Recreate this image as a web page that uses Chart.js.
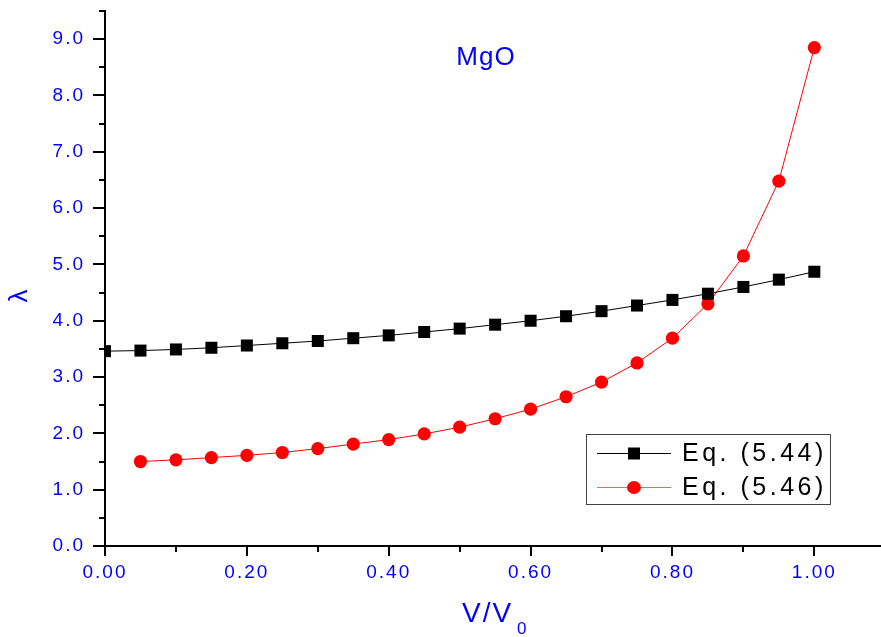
<!DOCTYPE html>
<html>
<head>
<meta charset="utf-8">
<script src="https://cdn.jsdelivr.net/npm/chart.js@4.4.0/dist/chart.umd.min.js"></script>
<style>
html, body { margin: 0; padding: 0; background: #fff; overflow: hidden; }
#wrap { width: 881px; height: 637px; position: relative; }
#canvas1 { display: block; }
</style>
</head>
<body>
<div id="wrap"><canvas id="canvas1"></canvas></div>
<script>
"use strict";

// V/V0 values for the two curves
const vRatio = [0.00, 0.05, 0.10, 0.15, 0.20, 0.25, 0.30, 0.35, 0.40, 0.45, 0.50,
                0.55, 0.60, 0.65, 0.70, 0.75, 0.80, 0.85, 0.90, 0.95, 1.00];
// lambda from Eq. (5.44)
const eq544 = [3.46, 3.47, 3.49, 3.52, 3.56, 3.60, 3.64, 3.69, 3.74, 3.80, 3.86,
               3.93, 4.00, 4.08, 4.17, 4.27, 4.37, 4.48, 4.60, 4.73, 4.87];
// lambda from Eq. (5.46), starts at 0.05
const eq546V = vRatio.slice(1);
const eq546 = [1.50, 1.53, 1.57, 1.61, 1.66, 1.73, 1.81, 1.89, 1.99, 2.11,
               2.26, 2.43, 2.65, 2.91, 3.25, 3.69, 4.30, 5.15, 6.48, 8.85];
const seriesNames = ["Eq. (5.44)", "Eq. (5.46)"];
const xTicks = [0.00, 0.20, 0.40, 0.60, 0.80, 1.00];
const yTicks = [0, 1, 2, 3, 4, 5, 6, 7, 8, 9];

const BLUE = "#0000ff";
const FONT = "'Liberation Sans', Arial, sans-serif";

// ticks, titles and boxed legend
const decor = {
    id: "decor",
    beforeDraw(chart) {
        chart.ctx.letterSpacing = "2px";
    },
    afterDraw(chart) {
        const ctx = chart.ctx;
        const xs = chart.scales.x;
        const ys = chart.scales.y;
        const a = chart.chartArea;
        ctx.save();
        ctx.letterSpacing = "0px";
        ctx.strokeStyle = "#000";
        ctx.lineWidth = 2;
        ctx.beginPath();
        //y ticks, major every 1, minor every 0.5
        for (let i = 0; i <= 19; i++) {
            let v = i * 0.5;
            let py = Math.round(ys.getPixelForValue(v));
            let len = i % 2 == 0 ? 12 : 6;
            ctx.moveTo(a.left, py);
            ctx.lineTo(a.left - len, py);
        }
        //x ticks, major every 0.2, minor every 0.1
        for (let i = 0; i <= 10; i++) {
            let px = Math.round(xs.getPixelForValue(i * 0.1));
            let len = i % 2 == 0 ? 10 : 6;
            ctx.moveTo(px, a.bottom);
            ctx.lineTo(px, a.bottom + len);
        }
        ctx.stroke();

        //titles
        ctx.fillStyle = BLUE;
        ctx.textAlign = "center";
        ctx.textBaseline = "alphabetic";
        ctx.font = "26px " + FONT;
        ctx.letterSpacing = "1px";
        ctx.fillText("MgO", 486, 65);

        ctx.font = "28px " + FONT;
        ctx.letterSpacing = "2px";
        ctx.textAlign = "left";
        ctx.fillText("V/V", 462, 622);
        ctx.font = "17px " + FONT;
        ctx.letterSpacing = "0px";
        ctx.fillText("0", 517, 634);

        ctx.save();
        ctx.translate(27, 296);
        ctx.rotate(-Math.PI / 2);
        ctx.font = "26px " + FONT;
        ctx.textAlign = "center";
        ctx.fillText("\u03bb", 0, 0);
        ctx.restore();

        //legend box
        const bx = 586, by = 434, bw = 244, bh = 70;
        ctx.fillStyle = "#fff";
        ctx.fillRect(bx, by, bw, bh);
        ctx.strokeStyle = "#444";
        ctx.lineWidth = 1;
        ctx.strokeRect(bx + 0.5, by + 0.5, bw, bh);
        chart.data.datasets.forEach((ds, i) => {
            let ly = i == 0 ? 453.5 : 487.5;
            ctx.strokeStyle = i == 0 ? "#000" : "#ff6060";
            ctx.lineWidth = 1;
            ctx.beginPath();
            ctx.moveTo(597, ly);
            ctx.lineTo(671, ly);
            ctx.stroke();
            ctx.fillStyle = ds.pointBackgroundColor;
            if (ds.pointStyle == "rect") {
                ctx.fillRect(628, ly - 6, 12, 12);
            } else {
                ctx.beginPath();
                ctx.ellipse(634, ly, 7, 6.5, 0, 0, Math.PI * 2);
                ctx.fill();
            }
            ctx.fillStyle = "#000";
            ctx.font = "25px " + FONT;
            ctx.letterSpacing = "3.5px";
            ctx.textAlign = "left";
            ctx.textBaseline = "middle";
            ctx.fillText(ds.label, 682, ly + 1);
        });
        ctx.restore();
    }
};

let opts = {
    type: "line",
    data: {
        datasets: [
            {
                label: seriesNames[0],
                data: vRatio.map((v, i) => ({ x: v, y: eq544[i] })),
                borderColor: "#000",
                borderWidth: 1,
                pointStyle: "rect",
                pointRadius: 8.5,
                pointBackgroundColor: "#000",
                pointBorderWidth: 0,
                tension: 0,
            },
            {
                label: seriesNames[1],
                data: eq546V.map((v, i) => ({ x: v, y: eq546[i] })),
                borderColor: "#ff0000",
                borderWidth: 1,
                pointStyle: "circle",
                pointRadius: 6.6,
                pointBackgroundColor: "#ff0000",
                pointBorderWidth: 0,
                tension: 0,
            },
        ],
    },
    options: {
        responsive: true,
        maintainAspectRatio: false,
        animation: false,
        layout: {
            autoPadding: false,
            padding: { top: 11, right: 0, left: 0, bottom: 0 },
        },
        plugins: {
            legend: { display: false },
            tooltip: { enabled: false },
        },
        scales: {
            x: {
                type: "linear",
                min: 0,
                max: 1.094,
                afterFit: s => {
                    s.height = 91;
                    s.paddingLeft = 0;
                    s.paddingRight = 0;
                },
                afterBuildTicks: s => { s.ticks = xTicks.map(v => ({ value: v })); },
                grid: { display: true, drawOnChartArea: false, drawTicks: false },
                border: { color: "#000", width: 2 },
                ticks: {
                    color: BLUE,
                    font: { family: FONT, size: 19 },
                    padding: 15,
                    maxRotation: 0,
                    callback: v => v.toFixed(2),
                },
            },
            y: {
                min: 0,
                max: 9.5,
                afterFit: s => {
                    s.width = 105;
                    s.paddingTop = 0;
                    s.paddingBottom = 0;
                },
                afterBuildTicks: s => { s.ticks = yTicks.map(v => ({ value: v })); },
                grid: { display: true, drawOnChartArea: false, drawTicks: false },
                border: { color: "#000", width: 2 },
                ticks: {
                    color: BLUE,
                    font: { family: FONT, size: 19 },
                    padding: 20,
                    callback: v => v.toFixed(1),
                },
            },
        },
    },
    plugins: [decor],
};

let c1 = new Chart(document.querySelector("#canvas1"), opts);
</script>
</body>
</html>
